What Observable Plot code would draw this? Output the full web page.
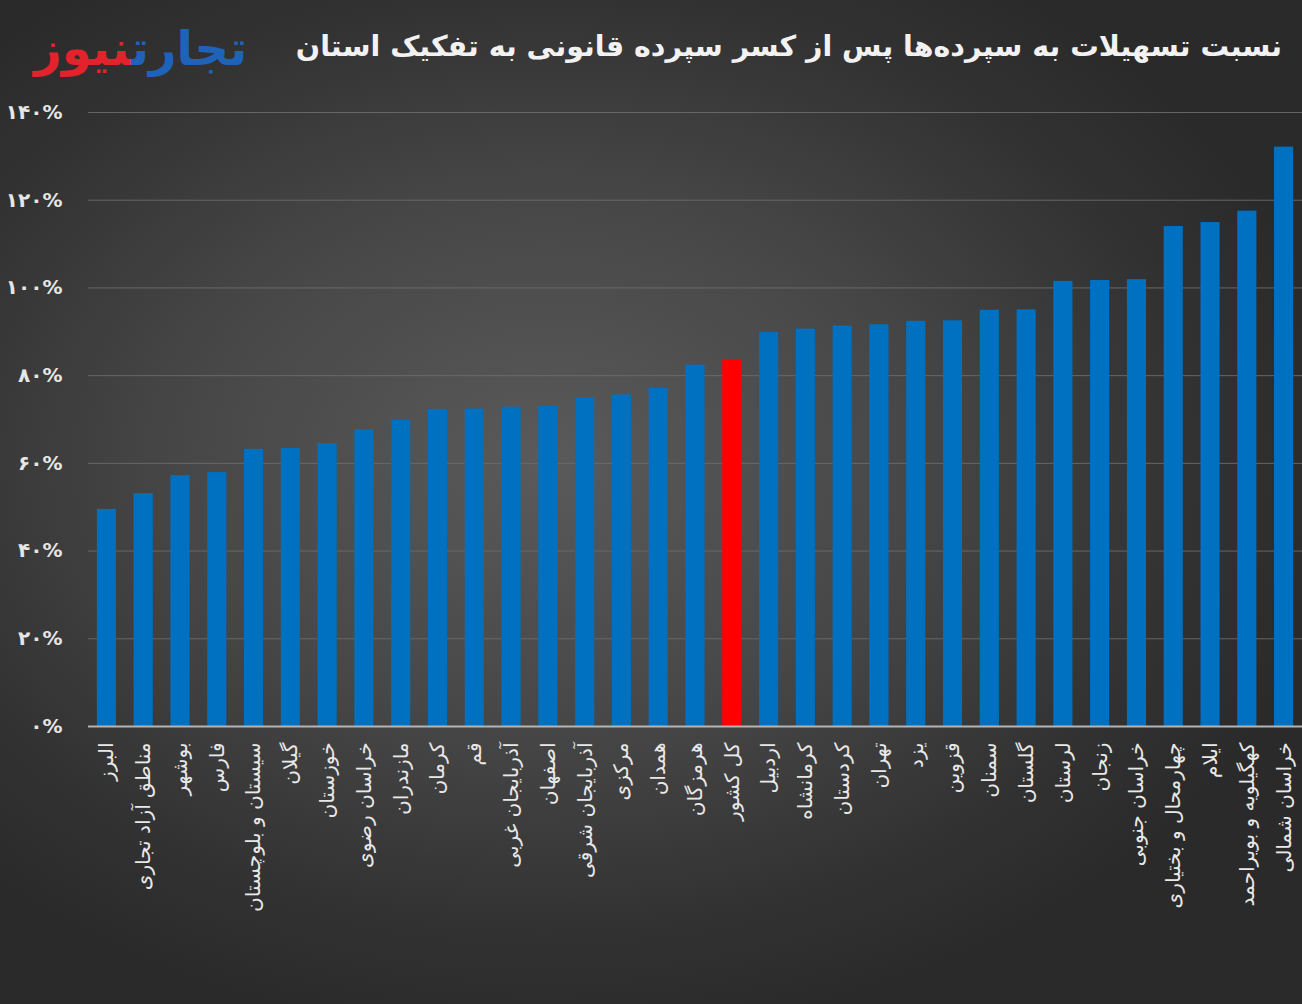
<!DOCTYPE html>
<html>
<head>
<meta charset="utf-8">
<script src="https://cdn.jsdelivr.net/npm/d3@7"></script>
<script src="https://cdn.jsdelivr.net/npm/@observablehq/plot@0.6"></script>
<style>
  html, body { margin: 0; padding: 0; }
  body { width: 1302px; height: 1004px; overflow: hidden; }
  #wrap {
    position: relative; width: 1302px; height: 1004px;
    background: radial-gradient(ellipse 62% 58% at 42% 46%, #5a5a5a 0%, #474747 45%, #323232 80%, #2a2a2a 100%);
    font-family: "DejaVu Sans", sans-serif;
  }
  #header { position: relative; height: 100px; }
  #title {
    position: absolute; right: 20px; top: 30px; direction: rtl;
    font-size: 28.5px; font-weight: bold; color: #f2f2f2; white-space: nowrap;
  }
  #logo {
    position: absolute; left: 34px; top: 20px; direction: rtl;
    font-size: 48px; font-weight: 900; white-space: nowrap; letter-spacing: 0px;
  }
  #logo .b { color: #1f63b8; }
  #logo .r { color: #e2232b; }
  #chart svg { display: block; }
</style>
</head>
<body>
<div id="wrap">
  <div id="header">
    <div id="logo"><span class="b">تجارت</span><span class="r">نیوز</span></div>
    <div id="title">نسبت تسهیلات به سپرده‌ها پس از کسر سپرده قانونی به تفکیک استان</div>
  </div>
  <div id="chart"></div>
</div>
<script>
const provinces = [
  "البرز", "مناطق آزاد تجاری", "بوشهر", "فارس", "سیستان و بلوچستان", "گیلان",
  "خوزستان", "خراسان رضوی", "مازندران", "کرمان", "قم", "آذربایجان غربی",
  "اصفهان", "آذربایجان شرقی", "مرکزی", "همدان", "هرمزگان", "کل کشور",
  "اردبیل", "کرمانشاه", "کردستان", "تهران", "یزد", "قزوین",
  "سمنان", "گلستان", "لرستان", "زنجان", "خراسان جنوبی", "چهارمحال و بختیاری",
  "ایلام", "کهگیلویه و بویراحمد", "خراسان شمالی"
];
const values = [
  49.5, 53.1, 57.2, 57.9, 63.2, 63.4,
  64.5, 67.7, 69.8, 72.3, 72.4, 72.8,
  73.0, 74.9, 75.6, 77.1, 82.4, 83.5,
  89.8, 90.6, 91.3, 91.6, 92.4, 92.5,
  94.9, 95.0, 101.5, 101.7, 101.9, 114.0,
  114.9, 117.5, 132.1
];
const highlight = "کل کشور";
const yTicks = [0, 20, 40, 60, 80, 100, 120, 140];

const data = provinces.map((p, i) => ({p, v: values[i]}));
const faDigits = "۰۱۲۳۴۵۶۷۸۹";
const fa = d => String(d).replace(/\d/g, c => faDigits[+c]) + "%";

const chart = Plot.plot({
  width: 1302,
  height: 904,
  marginTop: 12,
  marginBottom: 278,
  marginLeft: 88,
  marginRight: 0,
  style: {background: "transparent", color: "#e8e8e8", fontFamily: "DejaVu Sans, sans-serif", fontSize: "20px", overflow: "visible"},
  x: {domain: provinces, paddingInner: 0.48, paddingOuter: 0.24, round: false, label: null},
  y: {domain: [0, 140], label: null},
  marks: [
    Plot.gridY(yTicks, {stroke: "#6c6c6c", strokeOpacity: 0.9, strokeWidth: 1}),
    Plot.barY(data, {x: "p", y: "v", fill: d => d.p === highlight ? "#ff0000" : "#0070c0"}),
    Plot.ruleY([0], {stroke: "#b4b4b4", strokeWidth: 2}),
    Plot.axisY(yTicks, {tickSize: 0, tickPadding: 26, tickFormat: fa, fontWeight: "bold", fontSize: 20, fill: "#e6e6e6"}),
    Plot.axisX({tickSize: 0, tickRotate: -90, tickPadding: 16, fontSize: 20, fill: "#e8e8e8"})
  ]
});
document.getElementById("chart").appendChild(chart);
</script>
</body>
</html>
